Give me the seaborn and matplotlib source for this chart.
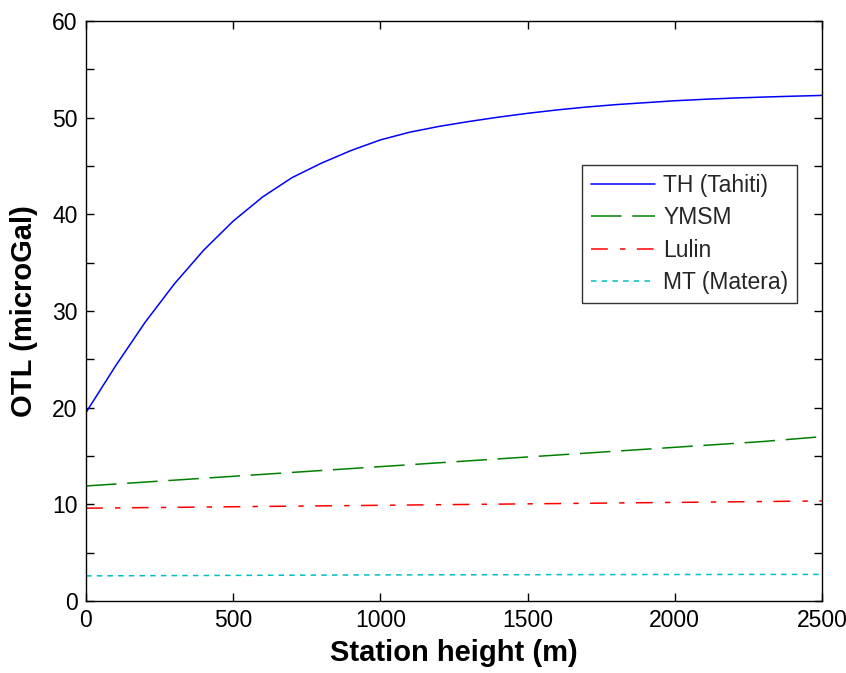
import numpy as np
import pandas as pd
import matplotlib
matplotlib.use("Agg")
import matplotlib.pyplot as plt
from matplotlib.ticker import MultipleLocator
import seaborn as sns

# Station heights (m)
height = [0, 100, 200, 300, 400, 500, 600, 700, 800, 900, 1000, 1100, 1200,
          1300, 1400, 1500, 1600, 1700, 1800, 1900, 2000, 2100, 2200, 2300,
          2400, 2500]

# Ocean tide loading (microGal) per station
th_tahiti = [19.5, 24.3, 28.8, 32.8, 36.3, 39.3, 41.8, 43.8, 45.3, 46.6,
             47.7, 48.5, 49.1, 49.6, 50.05, 50.45, 50.8, 51.1, 51.35, 51.55,
             51.75, 51.9, 52.03, 52.13, 52.22, 52.3]
ymsm = [11.9, 12.1, 12.3, 12.5, 12.7, 12.9, 13.1, 13.3, 13.5, 13.7,
        13.9, 14.1, 14.3, 14.5, 14.7, 14.9, 15.1, 15.3, 15.5, 15.7,
        15.9, 16.1, 16.3, 16.5, 16.75, 17.0]
lulin = [9.6, 9.63, 9.66, 9.69, 9.72, 9.75, 9.78, 9.81, 9.84, 9.87,
         9.9, 9.93, 9.96, 9.99, 10.02, 10.05, 10.08, 10.11, 10.14, 10.17,
         10.2, 10.23, 10.26, 10.29, 10.32, 10.35]
mt_matera = [2.6, 2.61, 2.62, 2.63, 2.64, 2.65, 2.66, 2.67, 2.68, 2.69,
             2.7, 2.7, 2.71, 2.71, 2.72, 2.72, 2.73, 2.73, 2.73, 2.74,
             2.74, 2.74, 2.75, 2.75, 2.75, 2.75]

series_names = ["TH (Tahiti)", "YMSM", "Lulin", "MT (Matera)"]
series_values = [th_tahiti, ymsm, lulin, mt_matera]
series_colors = ["#0000ff", "#008000", "#ff0000", "#00bfbf"]
series_styles = ["-", (0, (20, 7)), (0, (11, 8, 3.5, 7.5)), (0, (3.6, 3.4))]

sns.set_theme(style="white")
plt.rcParams["font.family"] = ["Liberation Sans Narrow", "Liberation Sans", "DejaVu Sans"]

fig = plt.figure(figsize=(8.46, 6.73), dpi=100)
ax = fig.add_axes([86 / 846, 1 - 601 / 673, 736 / 846, 580 / 673])

for name, vals, col, ls in zip(series_names, series_values, series_colors, series_styles):
    df = pd.DataFrame({"height": height, "otl": vals})
    sns.lineplot(data=df, x="height", y="otl", ax=ax, color=col,
                 linestyle=ls, linewidth=1.1, label=name)

ax.set_xlim(0, 2500)
ax.set_ylim(0, 60)
ax.xaxis.set_major_locator(MultipleLocator(500))
ax.yaxis.set_major_locator(MultipleLocator(10))
ax.yaxis.set_minor_locator(MultipleLocator(5))

ax.tick_params(which="both", direction="in", length=5.8, width=1.0,
               top=True, right=True, bottom=True, left=True, color="black")
ax.tick_params(which="major", labelsize=16.5, pad=6, labelcolor="black")
for side in ax.spines.values():
    side.set_color("black")
    side.set_linewidth(1.0)

label_font = {"family": ["Liberation Sans", "DejaVu Sans"], "weight": "bold", "size": 21}
ax.set_xlabel("Station height (m)", fontdict=label_font, labelpad=5, color="black")
ax.set_ylabel("OTL (microGal)", fontdict=label_font, labelpad=10, color="black")

leg = ax.legend(loc="upper right", bbox_to_anchor=(0.966, 0.752),
                fontsize=16.5, frameon=True, fancybox=False,
                handlelength=2.8, handletextpad=0.35, labelspacing=0.42,
                borderpad=0.38, borderaxespad=0.0)
leg.get_frame().set_edgecolor("black")
leg.get_frame().set_linewidth(1.0)

fig.savefig("out.png", dpi=100)
